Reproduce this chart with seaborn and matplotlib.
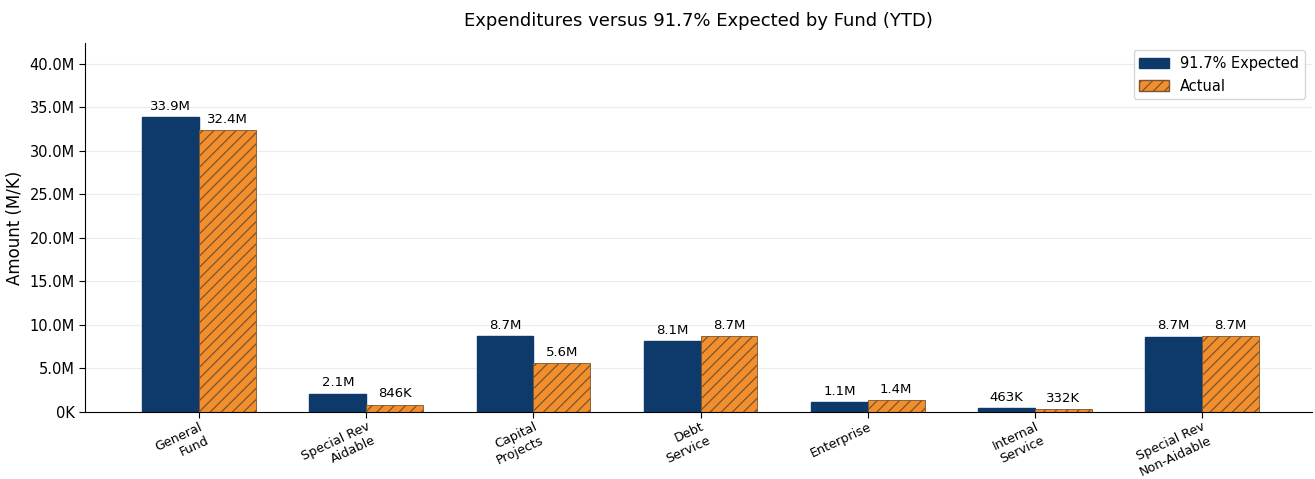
import numpy as np
import pandas as pd
import matplotlib
matplotlib.use("Agg")
import matplotlib.pyplot as plt
import matplotlib.ticker as mticker
import seaborn as sns

funds = ["General\nFund", "Special Rev\nAidable", "Capital\nProjects", "Debt\nService",
         "Enterprise", "Internal\nService", "Special Rev\nNon-Aidable"]
expected = [33.9e6, 2.1e6, 8.7e6, 8.1e6, 1.1e6, 463e3, 8.65e6]
actual = [32.4e6, 846e3, 5.6e6, 8.7e6, 1.4e6, 332e3, 8.7e6]
series = ["91.7% Expected", "Actual"]

NAVY = "#0d3a6b"
ORANGE = "#f28e2b"


def fmt(v, pos=None):
    if v >= 1e6:
        return f"{v / 1e6:.1f}M"
    return f"{v / 1e3:.0f}K"


df = pd.DataFrame({
    "Fund": funds * 2,
    "Amount": expected + actual,
    "Series": [series[0]] * len(funds) + [series[1]] * len(funds),
})

sns.set_style("white", {"axes.edgecolor": "black", "text.color": "black",
                        "axes.labelcolor": "black", "xtick.color": "black",
                        "ytick.color": "black"})
plt.rcParams["font.family"] = ["DejaVu Sans"]
plt.rcParams["hatch.color"] = "#4a3320"
plt.rcParams["hatch.linewidth"] = 0.9

fig, ax = plt.subplots(figsize=(13.15, 4.79), dpi=100)
sns.barplot(data=df, x="Fund", y="Amount", hue="Series", ax=ax,
            palette=[NAVY, ORANGE], width=0.68, gap=0,
            saturation=1, errorbar=None)

# hatch the actual bars
for bar in ax.containers[1]:
    bar.set_hatch("///")
    bar.set_edgecolor("#7a5430")
    bar.set_linewidth(0.6)
for bar in ax.containers[0]:
    bar.set_edgecolor(NAVY)

for cont in ax.containers:
    ax.bar_label(cont, labels=[fmt(b.get_height()) for b in cont], padding=3, fontsize=9.5)

ax.set_xlim(-0.68, 6.66)
ax.set_ylim(0, max(expected) * 1.25)
ax.yaxis.set_major_locator(mticker.MultipleLocator(5e6))
ax.yaxis.set_major_formatter(mticker.FuncFormatter(fmt))
ax.yaxis.grid(True, color="#ececec", linewidth=0.8)
ax.set_axisbelow(True)
ax.tick_params(axis="y", labelsize=10.5, left=True, length=4)
ax.tick_params(axis="x", bottom=True, length=4, pad=2)
plt.setp(ax.get_xticklabels(), rotation=25, ha="right", fontsize=9.2, rotation_mode="anchor")

ax.set_xlabel("")
ax.set_ylabel("Amount (M/K)", fontsize=12)
ax.set_title("Expenditures versus 91.7% Expected by Fund (YTD)", fontsize=13, pad=12)
sns.despine(ax=ax)

leg = ax.legend(loc="upper right", fontsize=10.5, frameon=True)
leg.get_frame().set_edgecolor("#cccccc")
handles = leg.legend_handles
handles[1].set_hatch("///")
handles[1].set_edgecolor("#7a5430")
handles[0].set_edgecolor(NAVY)

fig.subplots_adjust(left=0.065, right=0.998, top=0.91, bottom=0.14)
fig.savefig("out.png", dpi=100)
